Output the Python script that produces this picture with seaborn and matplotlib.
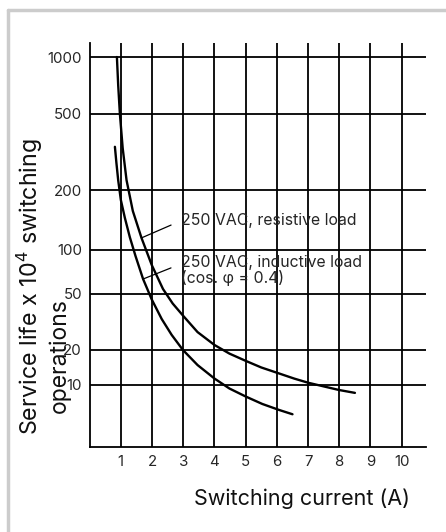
import numpy as np
import pandas as pd
import matplotlib
matplotlib.use("Agg")
import matplotlib.pyplot as plt
from matplotlib.lines import Line2D
from matplotlib.ticker import NullLocator
import seaborn as sns

# data
res_current = [0.875, 0.916, 0.970, 1.060, 1.184, 1.385, 1.663, 1.992, 2.352, 2.662, 3.003,
               3.460, 4.003, 4.482, 5.002, 5.503, 6.078, 6.556, 7.003, 7.514, 7.993, 8.503]
res_life = [1000, 710, 500, 331, 225, 157, 115, 78.9, 54.1, 42.8, 34.9,
            26.8, 21.7, 18.6, 16.1, 14.1, 12.5, 11.3, 10.4, 9.65, 9.0, 8.5]

ind_current = [0.811, 0.859, 0.916, 1.002, 1.130, 1.289, 1.471, 1.714, 1.992, 2.311,
               2.630, 2.991, 3.460, 4.003, 4.481, 5.002, 5.535, 6.078, 6.502]
ind_life = [336, 277, 225, 178, 145, 116, 91, 63.3, 45.7, 33.2,
            25.6, 20, 14.8, 11.3, 9.27, 7.91, 6.82, 6.05, 5.56]

x_ticks = [1, 2, 3, 4, 5, 6, 7, 8, 9, 10]
y_ticks = [10, 20, 50, 100, 200, 500, 1000]

df = pd.concat([
    pd.DataFrame({"current": res_current, "life": res_life, "load": "resistive"}),
    pd.DataFrame({"current": ind_current, "life": ind_life, "load": "inductive"}),
])

# the printed y axis is log-like but unevenly spaced: map log10 values to axis fraction
knot_log = [-1.0, 1.0, np.log10(20), np.log10(50), 2.0, np.log10(200), np.log10(500), 3.0, 4.0]
knot_pos = [-0.42, 0.1542, 0.2401, 0.3787, 0.4876, 0.6361, 0.8250, 0.9653, 1.433]


def fwd(v):
    v = np.asarray(v, dtype=float)
    return np.interp(np.log10(np.clip(v, 1e-6, None)), knot_log, knot_pos)


def inv(p):
    p = np.asarray(p, dtype=float)
    return 10 ** np.interp(p, knot_pos, knot_log)


sns.set_style("white")
plt.rcParams["font.family"] = ["Inter", "DejaVu Sans"]

fig = plt.figure(figsize=(4.46, 5.32), dpi=100)
ax = fig.add_axes([0.2009, 0.1598, 0.7542, 0.7594])

ax.set_yscale("function", functions=(fwd, inv))

sns.lineplot(data=df, x="current", y="life", units="load", estimator=None,
             sort=False, color="black", lw=1.7, ax=ax)

ax.set_xlim(0, 10.78)
ax.set_ylim(float(inv(0.0)), float(inv(1.0)))
ax.set_xticks(x_ticks)
ax.set_xticklabels([str(t) for t in x_ticks], fontsize=10.8)
ax.set_yticks(y_ticks)
ax.set_yticklabels([str(t) for t in y_ticks], fontsize=10.8)
ax.yaxis.set_minor_locator(NullLocator())
ax.tick_params(length=0)
ax.tick_params(axis="y", pad=5.5)
ax.tick_params(axis="x", pad=6)
ax.grid(True, color="black", lw=1.3)
for s in ["top", "right"]:
    ax.spines[s].set_visible(False)
for s in ["left", "bottom"]:
    ax.spines[s].set_color("black")
    ax.spines[s].set_linewidth(1.3)

ax.set_xlabel("Switching current (A)", fontsize=15.5, color="#111111")
ax.xaxis.set_label_coords(0.63, -0.129)
ax.xaxis.label.set_va("center")
ax.set_ylabel("")

fig.text(0.067, 0.4605, "Service life x 10$^4$ switching", rotation=90,
         ha="center", va="center", fontsize=16.8, color="#111111")
fig.text(0.1345, 0.331, "operations", rotation=90,
         ha="center", va="center", fontsize=16.5, color="#111111")

ax.annotate("250 VAC, resistive load", xy=(1.663, 115), xytext=(2.92, 140),
            textcoords="data", ha="left", va="center", fontsize=11.4,
            arrowprops=dict(arrowstyle="-", color="black", lw=0.9,
                            relpos=(0, 0.5), shrinkA=5, shrinkB=0))
ax.annotate("250 VAC, inductive load\n(cos. φ = 0.4)", xy=(1.714, 63.3), xytext=(2.92, 72),
            textcoords="data", ha="left", va="center", fontsize=11.4,
            linespacing=1.0,
            arrowprops=dict(arrowstyle="-", color="black", lw=0.9,
                            relpos=(0, 0.72), shrinkA=5, shrinkB=0))

# light frame along top and left edge
fig.add_artist(Line2D([8 / 446, 1], [1 - 10 / 532, 1 - 10 / 532], transform=fig.transFigure,
                      color="#cccccc", lw=2.5))
fig.add_artist(Line2D([8 / 446, 8 / 446], [0, 1 - 10 / 532], transform=fig.transFigure,
                      color="#cccccc", lw=2.5))

fig.savefig("out.png", dpi=100)
